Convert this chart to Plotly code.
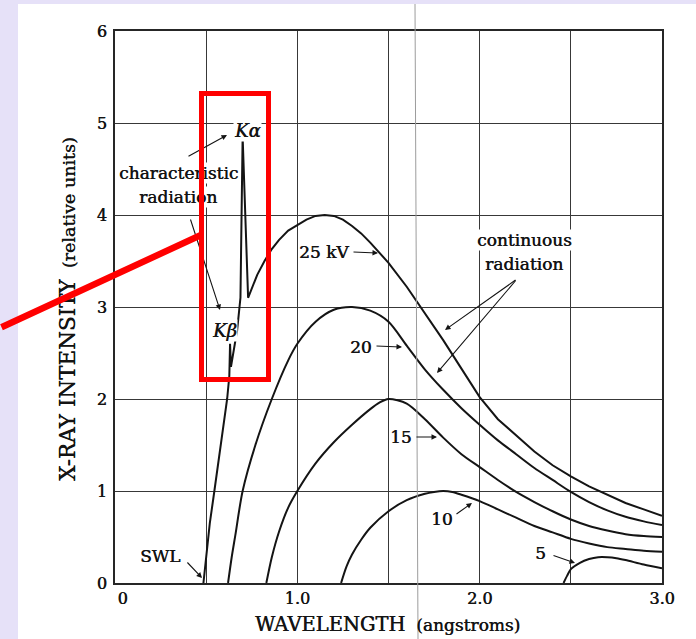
import plotly.graph_objects as go

# ---------------- data ----------------
kv25_x = [0.485, 0.50, 0.52, 0.545, 0.57, 0.595, 0.615, 0.627, 0.631, 0.636, 0.65, 0.67, 0.688, 0.700,
          0.730, 0.75, 0.78, 0.82, 0.86, 0.90, 0.95, 1.00, 1.05, 1.10, 1.15, 1.20, 1.25, 1.30, 1.35,
          1.40, 1.50, 1.60, 1.70, 1.80, 1.90, 2.00, 2.10, 2.20, 2.30, 2.40, 2.50, 2.60, 2.70, 2.80,
          2.90, 3.00]
kv25_y = [0.00, 0.30, 0.65, 1.00, 1.35, 1.70, 2.00, 2.25, 2.60, 2.35, 2.50, 2.75, 3.10, 4.85,
          3.10, 3.20, 3.35, 3.50, 3.63, 3.73, 3.83, 3.89, 3.95, 3.99, 4.00, 3.99, 3.95, 3.88, 3.80,
          3.70, 3.48, 3.22, 2.93, 2.64, 2.33, 2.02, 1.78, 1.60, 1.43, 1.28, 1.16, 1.05, 0.96, 0.87,
          0.80, 0.73]

kv20_x = [0.62, 0.64, 0.66, 0.70, 0.77, 0.86, 0.95, 1.00, 1.10, 1.20, 1.30, 1.40, 1.50, 1.60, 1.70,
          1.80, 1.90, 2.00, 2.10, 2.20, 2.30, 2.40, 2.50, 2.60, 2.70, 2.80, 2.90, 3.00]
kv20_y = [0.00, 0.28, 0.52, 1.00, 1.50, 2.00, 2.42, 2.60, 2.84, 2.97, 3.00, 2.96, 2.84, 2.58, 2.32,
          2.10, 1.90, 1.72, 1.55, 1.40, 1.25, 1.12, 0.99, 0.88, 0.79, 0.72, 0.67, 0.63]

kv15_x = [0.83, 0.86, 0.90, 0.95, 1.00, 1.10, 1.20, 1.30, 1.40, 1.45, 1.50, 1.60, 1.70, 1.80, 1.90,
          2.00, 2.10, 2.20, 2.30, 2.40, 2.50, 2.60, 2.70, 2.80, 2.90, 3.00]
kv15_y = [0.00, 0.28, 0.56, 0.82, 1.00, 1.30, 1.53, 1.72, 1.89, 1.96, 2.00, 1.95, 1.78, 1.58, 1.40,
          1.26, 1.12, 0.99, 0.88, 0.78, 0.69, 0.62, 0.57, 0.53, 0.51, 0.50]

kv10_x = [1.24, 1.27, 1.30, 1.35, 1.40, 1.50, 1.60, 1.70, 1.75, 1.80, 1.85, 1.90, 2.00, 2.10, 2.20,
          2.30, 2.40, 2.50, 2.60, 2.70, 2.80, 2.90, 3.00]
kv10_y = [0.00, 0.18, 0.31, 0.47, 0.60, 0.78, 0.90, 0.97, 0.99, 1.00, 0.99, 0.96, 0.89, 0.80, 0.71,
          0.62, 0.55, 0.48, 0.43, 0.39, 0.37, 0.35, 0.34]

kv5_x = [2.46, 2.48, 2.50, 2.55, 2.60, 2.65, 2.70, 2.75, 2.80, 2.90, 3.00]
kv5_y = [0.00, 0.08, 0.15, 0.22, 0.26, 0.28, 0.28, 0.27, 0.25, 0.20, 0.16]

x_ticks = [0, 1, 2, 3]
x_tick_labels = ["\u00a0\u00a0\u00a00", "1.0", "2.0", "3.0"]
y_ticks = [0, 1, 2, 3, 4, 5, 6]

# ---------------- geometry ----------------
W, H = 696, 639
L, R, T, B = 115, 34, 31, 56
PW, PH = W - L - R, H - T - B

def pxp(px, py):
    """pixel -> paper coordinates"""
    return (px - L) / PW, (H - B - py) / PH

FONT = "DejaVu Serif"
INK = "#141414"
SHADOW = "0.45px 0px 0px #141414"

fig = go.Figure()
series = [
    (kv25_x, kv25_y, "linear"),
    (kv20_x, kv20_y, "spline"),
    (kv15_x, kv15_y, "spline"),
    (kv10_x, kv10_y, "spline"),
    (kv5_x, kv5_y, "spline"),
]
for xs, ys, shp in series:
    fig.add_trace(go.Scatter(x=xs, y=ys, mode="lines",
                             line=dict(color=INK, width=2.0, shape=shp, smoothing=0.8),
                             showlegend=False, hoverinfo="skip"))

annotations = []

def text(px, py, s, size=17, bg=None, angle=0):
    x, y = pxp(px, py)
    d = dict(x=x, y=y, xref="paper", yref="paper", text=s, showarrow=False,
             font=dict(family=FONT, size=size, color=INK, shadow=SHADOW),
             xanchor="center", yanchor="middle", textangle=angle, borderpad=0)
    if bg:
        d["bgcolor"] = bg
    annotations.append(d)

def arrow(tx, ty, hx, hy, color=INK, width=1.1, head=2, size=1.0):
    x, y = pxp(hx, hy)
    annotations.append(dict(x=x, y=y, xref="paper", yref="paper", text="", showarrow=True,
                            ax=tx - hx, ay=ty - hy, axref="pixel", ayref="pixel",
                            arrowhead=head, arrowsize=size, arrowwidth=width, arrowcolor=color,
                            standoff=0, startstandoff=0))

# labels
text(178, 173, "characteristic", bg="white")
text(178, 197, "radiation", bg="white")
text(247, 130, "<i>Kα</i>", size=18, bg="white")
text(224, 330, "<i>Kβ</i>", size=18, bg="white")
text(160, 556, "SWL", size=17, bg="white")
text(324, 252, "25 kV", bg="white")
text(361, 347, "20", bg="white")
text(401, 437, "15", bg="white")
text(442, 519, "10", bg="white")
text(540, 553, "5", bg="white")
text(524, 240, "continuous", bg="white")
text(524, 264, "radiation", bg="white")

# axis titles
text(387, 624, '<span style="font-size:19.5px">WAVELENGTH</span>  (angstroms)', size=17)
text(67, 309, '<span style="font-size:21.5px">X-RAY INTENSITY</span>  (relative units)', size=17.5,
     angle=-90)

# arrows
arrow(187, 157, 227, 135)
arrow(190, 218, 220, 310)
arrow(186, 561, 202, 578)
arrow(352, 252, 378, 253)
arrow(375, 346, 402, 347)
arrow(415, 437, 437, 437)
arrow(455, 515, 472, 503)
arrow(552, 555, 575, 563)
arrow(517, 279, 445, 330)
arrow(517, 279, 437, 373)

# red highlight (drawn last, on top)
cx, cy = pxp(234.5, 236)
annotations.append(dict(x=cx, y=cy, xref="paper", yref="paper", text=" ", showarrow=False,
                        width=62, height=281, borderwidth=5, bordercolor="#ff0000",
                        borderpad=0, xanchor="center", yanchor="middle"))
arrow(-4, 328, 201, 235, color="#ff0000", width=6.5, head=0)

shapes = [
    # white page over lavender background
    dict(type="rect", xref="paper", yref="paper", layer="below",
         x0=pxp(18, 0)[0], x1=pxp(700, 0)[0], y0=pxp(0, 643)[1], y1=pxp(0, 4)[1],
         fillcolor="white", line=dict(width=0)),
    # scanner artifact line
    dict(type="line", xref="paper", yref="paper", layer="above",
         x0=pxp(415, 0)[0], x1=pxp(418, 0)[0], y0=pxp(0, 4)[1], y1=pxp(0, 639)[1],
         line=dict(color="#9c9c9c", width=1)),
]

axis_common = dict(showgrid=True, gridcolor="#383838", gridwidth=1.2, zeroline=False,
                   showline=True, mirror=True, linecolor="#262626", linewidth=1.6,
                   ticks="", tickfont=dict(family=FONT, size=16, color=INK, shadow=SHADOW))

fig.update_layout(
    width=W, height=H,
    margin=dict(l=L, r=R, t=T, b=B),
    paper_bgcolor="#e6e1f8",
    plot_bgcolor="white",
    showlegend=False,
    xaxis=dict(range=[0, 3], tickvals=x_ticks, ticktext=x_tick_labels,
               ticklabelstandoff=0, **axis_common),
    yaxis=dict(range=[0, 6], tickvals=y_ticks, ticklabelstandoff=3, **axis_common),
    annotations=annotations,
    shapes=shapes,
)
# unlabelled vertical gridlines at half-angstrom steps
fig.update_xaxes(minor=dict(dtick=0.5, showgrid=True, gridcolor="#383838", gridwidth=1.2, ticks=""))

fig.write_html("out.html")
